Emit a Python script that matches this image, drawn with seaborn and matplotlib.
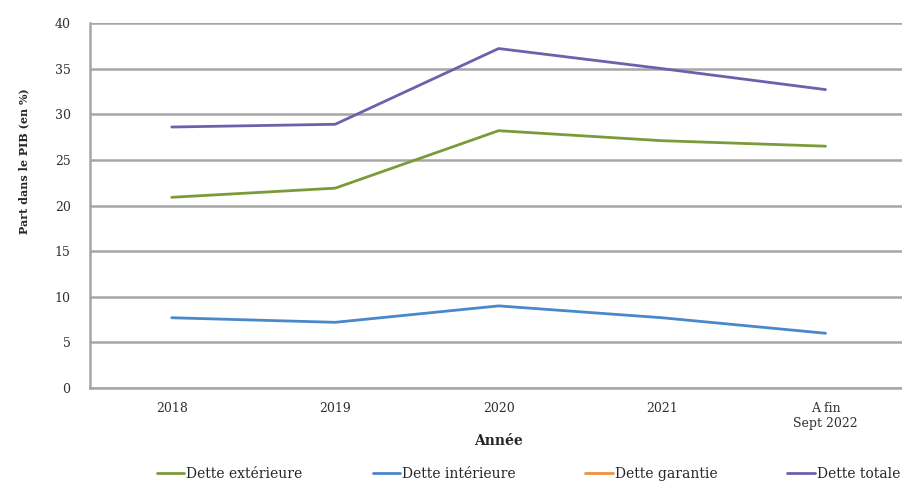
import pandas as pd
import matplotlib.pyplot as plt
import seaborn as sns
import numpy as np

# Data (part of GDP, %)
annees = ['2018', '2019', '2020', '2021', 'A fin\nSept 2022']
dette_exterieure = [20.9, 21.9, 28.2, 27.1, 26.5]
dette_interieure = [7.7, 7.2, 9.0, 7.7, 6.0]
dette_garantie = [np.nan, np.nan, np.nan, np.nan, np.nan]  # not visible on the chart
dette_totale = [28.6, 28.9, 37.2, 35.0, 32.7]

series = ['Dette extérieure', 'Dette intérieure', 'Dette garantie', 'Dette totale']
couleurs = ['#7d9a3a', '#4a88cc', '#f0903a', '#6a62aa']


def line_chart():
    df = pd.DataFrame({
        'Année': annees * 4,
        'valeur': dette_exterieure + dette_interieure + dette_garantie + dette_totale,
        'serie': [s for s in series for _ in annees],
    })

    sns.set_style('white')
    plt.rcParams['font.family'] = ['DejaVu Serif']

    fig = plt.figure(figsize=(9.03, 4.86), dpi=100)
    ax = fig.add_axes([0.0997, 0.2016, 0.905, 0.7511])

    sns.lineplot(data=df, x='Année', y='valeur', hue='serie', hue_order=series,
                 palette=couleurs, linewidth=2, ax=ax, sort=False)

    # Axis formatting
    ax.set_ylim(0, 40)
    ax.set_yticks(np.arange(0, 41, 5))
    ax.set_xlim(-0.5, 4.5)
    ax.grid(axis='y', color='#a6a6a6', linewidth=1.8)
    ax.set_axisbelow(True)
    for side in ['top', 'right']:
        ax.spines[side].set_visible(False)
    for side in ['left', 'bottom']:
        ax.spines[side].set_color('#a6a6a6')
        ax.spines[side].set_linewidth(1.8)
    ax.tick_params(axis='both', length=0, labelsize=9, colors='#303030')
    ax.tick_params(axis='y', pad=14)
    ax.tick_params(axis='x', pad=10)

    ax.set_xlabel('Année', fontsize=10, fontweight='bold', labelpad=3)
    ax.set_ylabel('Part dans le PIB (en %)', fontsize=8, fontweight='bold')
    ax.yaxis.set_label_coords(-0.074, 0.622)

    # Legend below the plot
    handles, labels = ax.get_legend_handles_labels()
    ax.get_legend().remove()
    fig.legend(handles, labels, loc='center left', bbox_to_anchor=(157 / 903, 0.024), ncol=4,
               frameon=False, fontsize=10, handlelength=1.95, handletextpad=0.15,
               columnspacing=5.05, borderpad=0, borderaxespad=0)

    fig.savefig('out.png', dpi=100)


if __name__ == "__main__":
    line_chart()
